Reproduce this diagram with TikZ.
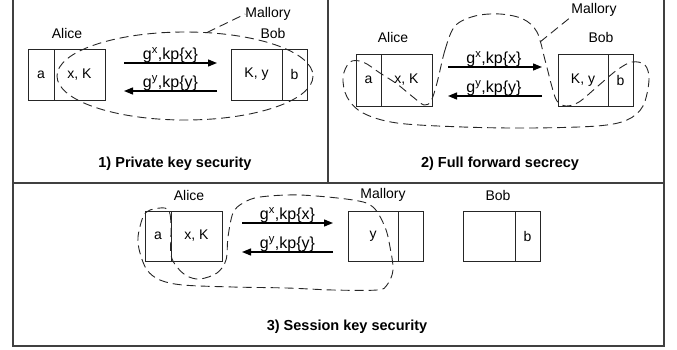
\documentclass[tikz,border=0pt]{standalone}
\usepackage{fontspec}
\setmainfont{Liberation Sans}
\usetikzlibrary{arrows.meta}

\begin{document}
\begin{tikzpicture}[x=1pt,y=-1pt,
  frame/.style={draw=black!75, line width=1.2pt},
  cell/.style={draw=black!85, line width=0.9pt, minimum height=51pt, inner sep=0pt,
    font=\fontsize{14}{16}\selectfont},
  who/.style={font=\fontsize{14}{16}\selectfont, inner sep=0pt},
  msg/.style={font=\fontsize{16}{18}\selectfont, inner sep=0pt, anchor=base},
  caption/.style={font=\bfseries\fontsize{14.5}{17}\selectfont, inner sep=0pt},
  flow/.style={line width=1.3pt, -{Triangle[length=9pt,width=7pt]}},
  adv/.style={draw=black!85, line width=0.9pt, dash pattern=on 9pt off 5pt},
]
\useasboundingbox (0,0) rectangle (677,349);

% outer frame and panel dividers
\draw[frame] (13,0) -- (13,346) -- (664,346) -- (664,0);
\draw[frame] (13,183) -- (664,183);
\draw[frame] (328,0) -- (328,183);

% ---------- 1) private key security ----------
\node[cell, minimum width=26pt] (a1)  at (41,74.5)   {a};
\node[cell, minimum width=51pt] (xk1) at (79.5,74.5) {x, K};
\node[cell, minimum width=51pt] (ky1) at (256.5,74.5) {K, y};
\node[cell, minimum width=25pt] (b1)  at (294.5,74.5) {b};
\node[who] (alice1) at (67,33) {Alice};
\node[who] (bob1) at (273,33) {Bob};
\node[who] (mal1) at (268,14) {Mallory};
\coordinate (s1a) at (124,63);  \coordinate (e1a) at (217,63);
\coordinate (s1b) at (217,91);  \coordinate (e1b) at (124,91);
\draw[flow] (s1a) -- (e1a);
\draw[flow] (s1b) -- (e1b);
\node[msg] (m1x) at (170.5,59.5) {g\textsuperscript{x},kp\{x\}};
\node[msg] (m1y) at (170.5,87.5) {g\textsuperscript{y},kp\{y\}};
\draw[adv] (185,76) ellipse [x radius=128, y radius=44];
\coordinate (t1) at (207,32.5);
\draw[adv] (t1) -- (mal1.west);
\node[caption] (c1) at (175,164) {1) Private key security};

% ---------- 2) full forward secrecy ----------
\node[cell, minimum width=25pt, minimum height=52pt] (a2)  at (368.5,80) {a};
\node[cell, minimum width=51pt, minimum height=52pt] (xk2) at (406.5,80) {x, K};
\node[cell, minimum width=50pt, minimum height=52pt] (ky2) at (583,80)   {K, y};
\node[cell, minimum width=25pt, minimum height=52pt] (b2)  at (620.5,80) {b};
\node[who] (alice2) at (393,37) {Alice};
\node[who] (bob2) at (601,37) {Bob};
\node[who] (mal2) at (594,10) {Mallory};
\coordinate (s2a) at (448,67);  \coordinate (e2a) at (542,67);
\coordinate (s2b) at (542,96);  \coordinate (e2b) at (448,96);
\draw[flow] (s2a) -- (e2a);
\draw[flow] (s2b) -- (e2b);
\node[msg] (m2x) at (494,63.5) {g\textsuperscript{x},kp\{x\}};
\node[msg] (m2y) at (494,92.5) {g\textsuperscript{y},kp\{y\}};
\draw[adv] plot[smooth cycle, tension=0.55] coordinates {
  (437,83) (445,50) (455,26) (475,16) (500,14) (523,19) (537,32) (545,60)
  (552,87) (557,101) (566,106) (579,102) (598,86) (617,70) (632,62) (645,65)
  (649,80) (643,106) (627,120) (597,126) (530,128) (463,127) (397,123)
  (363,113) (347,97) (343,77) (350,62) (363,62) (380,73) (397,84) (413,97)
  (424,105) (431,101)};
\coordinate (t2) at (540,42);
\draw[adv] (t2) -- (mal2.south west);
\node[caption] (c2) at (500,164) {2) Full forward secrecy};

% ---------- 3) session key security ----------
\node[cell, minimum width=26pt, minimum height=50pt] (a3)  at (158,236)   {a};
\node[cell, minimum width=51pt, minimum height=50pt] (xk3) at (196.5,236) {x, K};
\node[cell, minimum width=50pt, minimum height=50pt] (y3)  at (373,236)   {y};
\node[cell, minimum width=25pt, minimum height=50pt] (n3)  at (410.5,236) {};
\node[cell, minimum width=52pt, minimum height=50pt] (w3)  at (489,236)   {};
\node[cell, minimum width=25pt, minimum height=50pt] (b3)  at (527.5,236) {b};
\node[who] (alice3) at (189,195) {Alice};
\node[who] (mal3) at (383,195) {Mallory};
\node[who] (bob3) at (498,195) {Bob};
\coordinate (s3a) at (242,223);  \coordinate (e3a) at (333,223);
\coordinate (s3b) at (333,252);  \coordinate (e3b) at (242,252);
\draw[flow] (s3a) -- (e3a);
\draw[flow] (s3b) -- (e3b);
\node[msg] (m3x) at (287.5,219.5) {g\textsuperscript{x},kp\{x\}};
\node[msg] (m3y) at (287.5,248.5) {g\textsuperscript{y},kp\{y\}};
\draw[adv] plot[smooth cycle, tension=0.55] coordinates {
  (165,208) (170,214) (171,230) (171,255) (177,267) (187,276) (200,279)
  (217,273) (226,260) (228,237) (233,213) (243,203) (260,197) (300,195)
  (353,200) (373,207) (385,227) (390,247) (393,270) (387,285) (377,290)
  (333,290) (287,288) (233,287) (183,285) (160,280) (147,270) (140,253)
  (138,237) (143,217) (150,210)};
\node[caption] (c3) at (347,327) {3) Session key security};
\end{tikzpicture}
\end{document}
